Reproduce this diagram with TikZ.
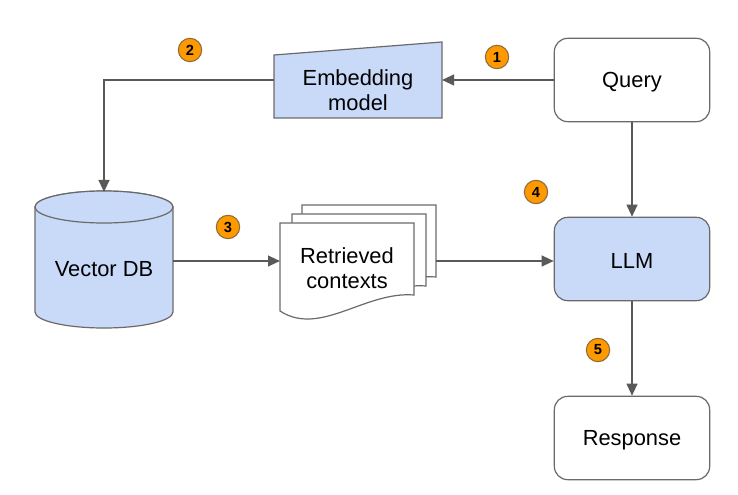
\documentclass[tikz,border=0pt]{standalone}
\usepackage{fontspec}
\setmainfont{Liberation Sans}
\usetikzlibrary{arrows.meta}
\definecolor{edgegray}{HTML}{595959}
\definecolor{linegray}{HTML}{6A6A6A}
\definecolor{paleblue}{HTML}{C9DAF8}
\definecolor{badgeorange}{HTML}{FF9900}
\definecolor{badgerim}{HTML}{8C6A3A}
% one page of a stacked document, top-left corner at the origin of the scope
\newcommand\docpage[2]{%
  \begin{scope}[shift={(#1,#2)}]
    \draw[outline, fill=white] (0,0) -- (134,0) -- (134,72)
      .. controls (85,68) and (40,114) .. (0,88) -- cycle;
  \end{scope}}
\begin{document}
\begin{tikzpicture}[x=0.75pt,y=-0.75pt,
  box/.style={draw=linegray, line width=0.9pt, rounded corners=10pt,
    minimum width=116.5pt, minimum height=62.5pt, inner sep=0pt},
  ghost/.style={inner sep=0pt, outer sep=0pt},
  txt/.style={font=\fontsize{16.4}{19.2}\selectfont, align=center, text=black},
  flow/.style={draw=edgegray, line width=1.5pt, -{Triangle[length=9pt,width=8pt]}},
  badge/.style={circle, fill=badgeorange, draw=badgerim, line width=0.8pt,
    minimum size=17.5pt, inner sep=0pt, font=\fontsize{11}{11}\selectfont\bfseries},
  outline/.style={draw=linegray, line width=0.9pt}]
\useasboundingbox[fill=white] (0,0) rectangle (738,495);

% rounded process boxes
\node[box] (query) at (632,80) {};
\node[box, fill=paleblue] (llm) at (632,259) {};
\node[box] (resp) at (632,438) {};
\node[txt] (querytext) at (632,82) {Query};
\node[txt] (llmtext) at (632,261) {LLM};
\node[txt] (resptext) at (632,440) {Response};

% embedding model (trapezoid)
\draw[outline, fill=paleblue] (274,55) -- (442,42) -- (442,118) -- (274,118) -- cycle;
\node[ghost, minimum width=126pt, minimum height=57pt] (emb) at (358,80) {};
\node[txt] (embtext) at (358,90) {Embedding\\model};

% vector database (cylinder)
\draw[outline, fill=paleblue] (35,207) -- (35,312)
  arc[start angle=180, end angle=360, x radius=51.75pt, y radius=12pt]
  -- (173,207)
  arc[start angle=0, end angle=180, x radius=51.75pt, y radius=12pt] -- cycle;
\draw[outline, fill=paleblue] (104,207) ellipse[x radius=51.75pt, y radius=12pt];
\node[ghost, minimum width=103.5pt, minimum height=103.5pt] (vdb) at (104,261) {};
\node[txt] (vdbtext) at (104,269) {Vector DB};

% retrieved contexts (stack of pages)
\docpage{302}{205}
\docpage{292}{214}
\docpage{280}{223}
\node[ghost, minimum width=100.5pt, minimum height=54pt] (ctxback) at (369,241) {};
\node[ghost, minimum width=100.5pt, minimum height=66pt] (ctx) at (347,267) {};
\node[txt] (ctxtext) at (347,268) {Retrieved\\contexts};

% connectors
\draw[flow] (query.west) -- (emb.east);
\draw[flow] (emb.west) -| (vdb.north);
\draw[flow] (vdb.east) -- (vdb.east -| ctx.west);
\draw[flow] (vdb.east -| ctxback.east) -- (vdb.east -| llm.west);
\draw[flow] (query.south) -- (llm.north);
\draw[flow] (llm.south) -- (resp.north);

% step numbers
\node[badge] (b1) at (497,57) {1};
\node[badge] (b2) at (190,50) {2};
\node[badge] (b3) at (228,227) {3};
\node[badge] (b4) at (536,192) {4};
\node[badge] (b5) at (598,350) {5};
\end{tikzpicture}
\end{document}
